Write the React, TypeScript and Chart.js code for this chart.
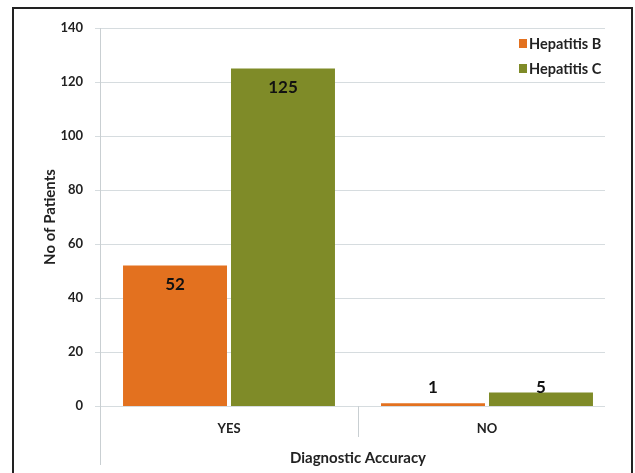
import React, { useEffect, useRef } from "react";
import { Chart, registerables } from "chart.js";

Chart.register(...registerables);

const categories = ["YES", "NO"];
const seriesNames = ["Hepatitis B", "Hepatitis C"];
const hepatitisB = [52, 1];
const hepatitisC = [125, 5];
const yTicks = [0, 20, 40, 60, 80, 100, 120, 140];
const colors = ["#E3711F", "#7F8B28"];

const FONT = "Lato, 'Open Sans', sans-serif";

const gridPlugin = {
  id: "gridlines",
  beforeDatasetsDraw(chart: any) {
    const ctx = chart.ctx;
    const area = chart.chartArea;
    const y = chart.scales.y;
    ctx.save();
    ctx.strokeStyle = "#d6dcdf";
    ctx.lineWidth = 1;
    ctx.beginPath();
    yTicks.forEach((v) => {
      const py = Math.round(y.getPixelForValue(v)) + 0.5;
      ctx.moveTo(area.left - 5, py);
      ctx.lineTo(area.right - 11, py);
    });
    ctx.stroke();
    ctx.strokeStyle = "#c9cfd2";
    ctx.beginPath();
    const lx = Math.round(area.left) + 0.5;
    ctx.moveTo(lx, area.top);
    ctx.lineTo(lx, area.bottom + 59);
    ctx.stroke();
    ctx.restore();
  },
};

const decorPlugin = {
  id: "decor",
  afterDraw(chart: any) {
    const ctx = chart.ctx;
    const area = chart.chartArea;
    const x = chart.scales.x;
    ctx.save();
    ctx.strokeStyle = "#c9cfd2";
    ctx.lineWidth = 1;
    const mid = Math.round((x.getPixelForValue(0) + x.getPixelForValue(1)) / 2) + 0.5;
    ctx.beginPath();
    ctx.moveTo(mid, area.bottom);
    ctx.lineTo(mid, area.bottom + 31);
    ctx.stroke();

    // data labels
    ctx.font = `bold 17px ${FONT}`;
    ctx.fillStyle = "#111";
    ctx.textAlign = "center";
    ctx.textBaseline = "middle";
    chart.data.datasets.forEach((ds: any, di: number) => {
      const meta = chart.getDatasetMeta(di);
      meta.data.forEach((bar: any, i: number) => {
        const h = bar.base - bar.y;
        const ly = h > 40 ? bar.y + 19 : bar.base - 18;
        ctx.fillText(String(ds.data[i]), bar.x, ly);
      });
    });

    // legend
    ctx.font = `bold 14.5px ${FONT}`;
    ctx.textAlign = "left";
    seriesNames.forEach((name, i) => {
      const lx = area.right - 97;
      const ly = area.top + 15 + i * 25;
      ctx.fillStyle = colors[i];
      ctx.fillRect(lx, ly - 4, 8, 9);
      ctx.fillStyle = "#222";
      ctx.fillText(name, lx + 10, ly + 1);
    });

    // outer frame
    ctx.strokeStyle = "#222";
    ctx.lineWidth = 2;
    ctx.strokeRect(13, 8, 619, 480);
    ctx.restore();
  },
};

export default function App() {
  const ref = useRef<HTMLCanvasElement | null>(null);
  useEffect(() => {
    document.body.style.margin = "0";
    const chart = new Chart(ref.current as HTMLCanvasElement, {
      type: "bar",
      data: {
        labels: categories,
        datasets: [
          { label: seriesNames[0], data: hepatitisB, backgroundColor: colors[0] },
          { label: seriesNames[1], data: hepatitisC, backgroundColor: colors[1] },
        ],
      },
      options: {
        responsive: false,
        animation: false,
        devicePixelRatio: 1,
        layout: { padding: { top: 28, right: 19, left: 0, bottom: 0 } },
        datasets: { bar: { categoryPercentage: 0.837, barPercentage: 0.963 } },
        plugins: { legend: { display: false }, tooltip: { enabled: false } },
        scales: {
          x: {
            grid: { display: false, drawTicks: false },
            border: { display: false },
            ticks: { padding: 15, color: "#222", font: { family: FONT, size: 13, weight: "bold" } },
            title: {
              display: true,
              text: "Diagnostic Accuracy",
              color: "#222",
              font: { family: FONT, size: 15, weight: "bold" },
              padding: { top: 0, bottom: 6 },
            },
            afterFit: (s: any) => {
              s.height = 67;
            },
          },
          y: {
            min: 0,
            max: 140,
            afterBuildTicks: (s: any) => {
              s.ticks = yTicks.map((v) => ({ value: v }));
            },
            grid: { display: false, drawTicks: false },
            border: { display: false },
            ticks: { padding: 17, color: "#222", font: { family: FONT, size: 13, weight: "bold" } },
            title: {
              display: true,
              text: "No of Patients",
              color: "#222",
              font: { family: FONT, size: 15, weight: "bold" },
              padding: { top: 41, bottom: 0 },
            },
            afterFit: (s: any) => {
              s.width = 100;
            },
          },
        },
      } as any,
      plugins: [gridPlugin, decorPlugin],
    });
    return () => chart.destroy();
  }, []);
  return (
    <div style={{ position: "fixed", left: 0, top: 0, width: 635, height: 473, background: "#fff" }}>
      <canvas ref={ref} width={635} height={473} />
    </div>
  );
}
